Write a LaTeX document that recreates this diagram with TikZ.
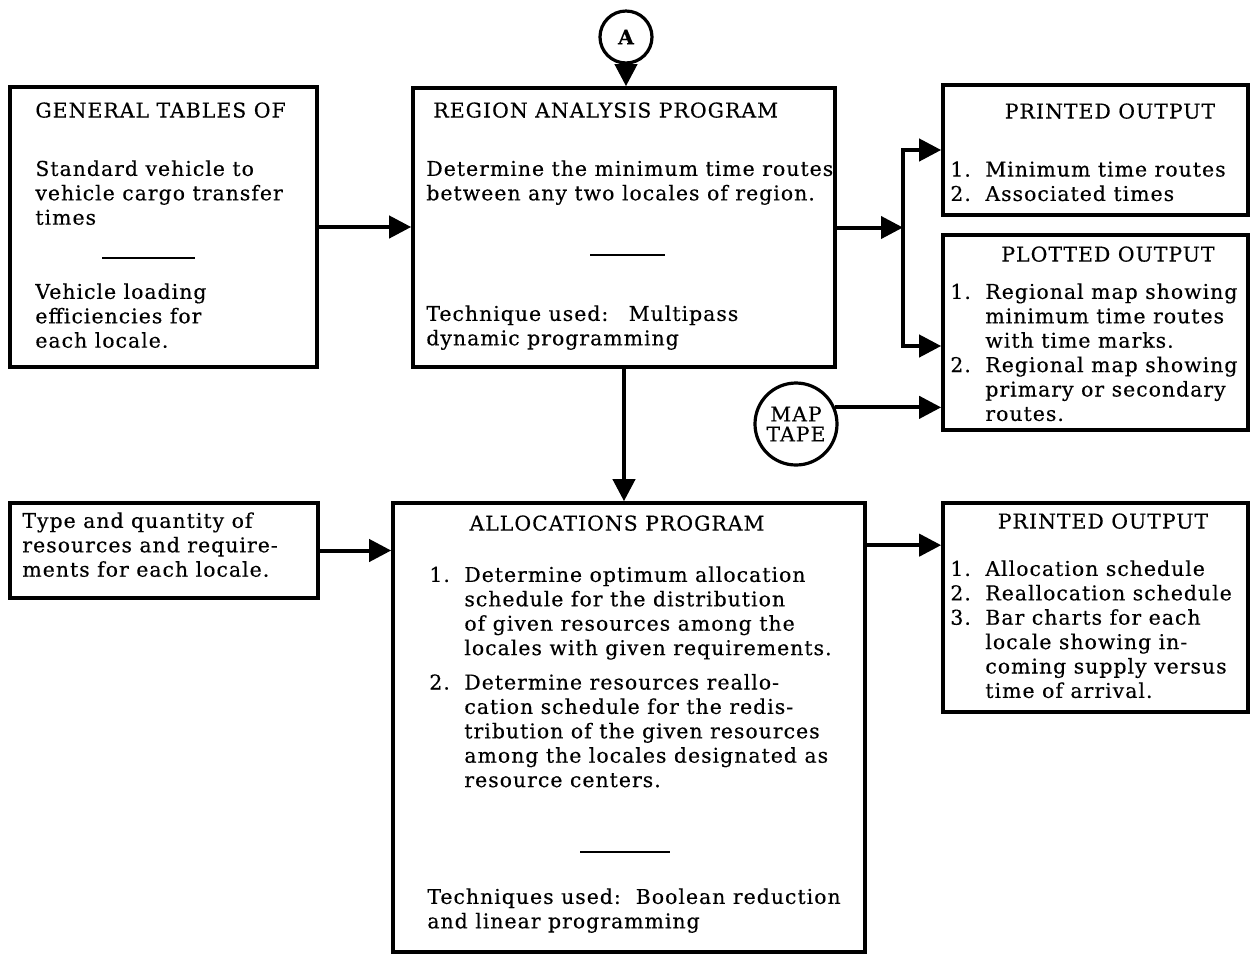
\documentclass[tikz,border=0pt]{standalone}
\usepackage{fontspec}
\setmainfont{DejaVu Serif}[LetterSpace=5,FakeBold=0.4]
\usetikzlibrary{arrows.meta,positioning,fit}
\newcommand{\itm}[1]{\makebox[17.5pt][l]{#1}}
\newcommand{\ind}{\hspace*{17.5pt}}

\begin{document}
\begin{tikzpicture}[x=0.5pt,y=-0.5pt,
    box/.style={draw,line width=1.8pt,inner sep=0pt},
    txt/.style={anchor=north west,align=left,inner sep=0pt,font=\fontsize{10.2}{12.2}\selectfont},
    head/.style={anchor=north,inner sep=0pt,font=\fontsize{10.2}{12.2}\selectfont},
    rule/.style={line width=1.2pt},
    flow/.style={line width=2pt,-{Triangle[length=11pt,width=11pt]}},
    tape/.style={circle,draw,line width=1.6pt,inner sep=0pt,font=\fontsize{10.2}{10}\selectfont,align=center}]
  \useasboundingbox (0,0) rectangle (1250,955);

  % boxes
  \node[box,fit={(10,87) (317,367)}] (gen) {};
  \node[box,fit={(413,88) (835,367)}] (region) {};
  \node[box,fit={(943,85) (1248,215)}] (printed) {};
  \node[box,fit={(943,235) (1248,430)}] (plotted) {};
  \node[box,fit={(10,503) (318,598)}] (type) {};
  \node[box,fit={(393,503) (865,952)}] (alloc) {};
  \node[box,fit={(943,503) (1248,712)}] (printedb) {};

  % connectors
  \node[tape,minimum size=26pt,font=\fontsize{10.2}{10}\selectfont\bfseries] (A) at (626,37) {A};
  \node[tape,minimum size=41pt] (maptape) at (796,424) {MAP\\TAPE};
  \coordinate (br) at (903,0 |- region.east);

  % general tables
  \node[head,anchor=north west] at (35,102) {GENERAL TABLES OF};
  \node[txt] at (35,160) {Standard vehicle to\\vehicle cargo transfer\\times};
  \draw[rule] (102,258) -- (195,258);
  \node[txt] at (35,283) {Vehicle loading\\efficiencies for\\each locale.};

  % region analysis
  \node[head,anchor=north west] at (433,102) {REGION ANALYSIS PROGRAM};
  \node[txt] at (426,160) {Determine the minimum time routes\\between any two locales of region.};
  \draw[rule] (590,255) -- (665,255);
  \node[txt] at (426,305) {Technique used:\quad Multipass\\dynamic programming};

  % outputs of region analysis
  \node[head] at (1110,103) {PRINTED OUTPUT};
  \node[txt] at (950,161) {\itm{1.}Minimum time routes\\\itm{2.}Associated times};
  \node[head] at (1108,246) {PLOTTED OUTPUT};
  \node[txt] at (950,283) {\itm{1.}Regional map showing\\\ind minimum time routes\\\ind with time marks.\\
    \itm{2.}Regional map showing\\\ind primary or secondary\\\ind routes.};

  % resources
  \node[txt] at (22,512) {Type and quantity of\\resources and require-\\ments for each locale.};

  % allocations
  \node[head] at (617,515) {ALLOCATIONS PROGRAM};
  \node[txt] at (429,566) {\itm{1.}Determine optimum allocation\\\ind schedule for the distribution\\
    \ind of given resources among the\\\ind locales with given requirements.\\[5pt]
    \itm{2.}Determine resources reallo-\\\ind cation schedule for the redis-\\
    \ind tribution of the given resources\\\ind among the locales designated as\\\ind resource centers.};
  \draw[rule] (580,852) -- (670,852);
  \node[txt] at (427,888) {Techniques used:\ \ Boolean reduction\\and linear programming};

  \node[head] at (1103,513) {PRINTED OUTPUT};
  \node[txt] at (950,560) {\itm{1.}Allocation schedule\\\itm{2.}Reallocation schedule\\\itm{3.}Bar charts for each\\
    \ind locale showing in-\\\ind coming supply versus\\\ind time of arrival.};

  % arrows
  \draw[flow] (A.south) -- (A.south |- region.north);
  \draw[flow] (gen.east) -- (gen.east -| region.west);
  \draw[flow] (region.east) -- (br);
  \draw[flow] (br) |- (printed.west);
  \draw[flow] (br) |- (plotted.185);
  \draw[flow] (maptape.23) -- (maptape.23 -| plotted.west);
  \draw[flow] (region.south) -- (region.south |- alloc.north);
  \draw[flow] (type.east) -- (type.east -| alloc.west);
  \draw[flow] (printedb.158 -| alloc.east) -- (printedb.158);
\end{tikzpicture}
\end{document}
